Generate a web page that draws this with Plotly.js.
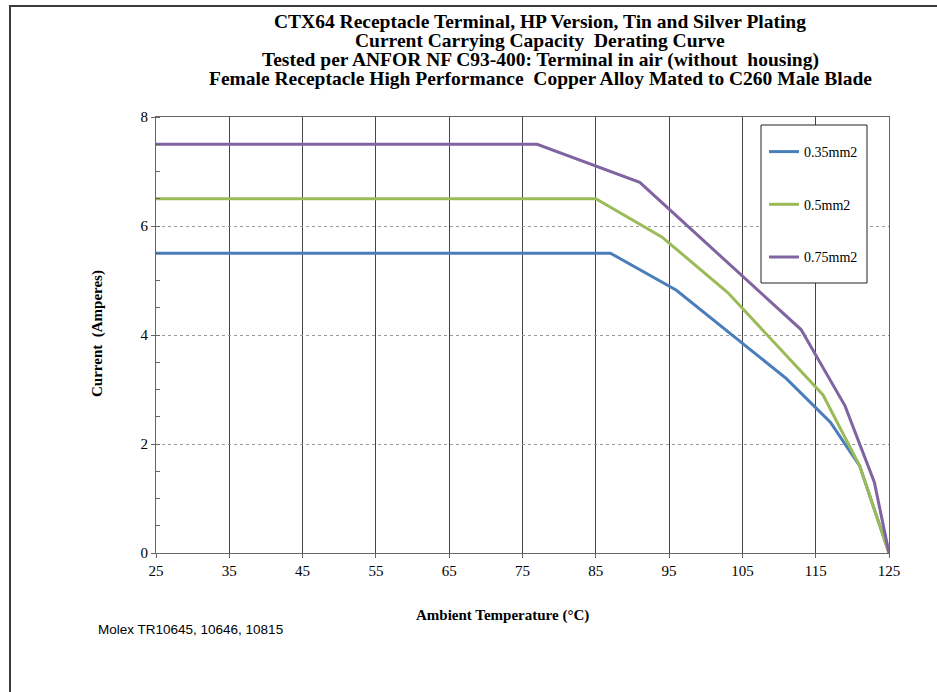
<!DOCTYPE html>
<html>
<head>
<meta charset="utf-8">
<script src="https://cdn.plot.ly/plotly-3.0.1.min.js"></script>
<style>
  html, body { margin: 0; padding: 0; background: #ffffff; }
  #wrap { position: relative; width: 937px; height: 692px; }
  #chart { position: absolute; left: 0; top: 0; width: 937px; height: 692px; }
  #frame { position: absolute; left: 9px; top: 5px; width: 928px; height: 687px;
           border-left: 2px solid #3a3a3a; border-top: 2px solid #3a3a3a; box-sizing: border-box; pointer-events: none; }
</style>
</head>
<body>
<div id="wrap">
  <div id="chart"></div>
  <div id="frame"></div>
</div>
<script>
// ---- Data ----
const seriesNames = ["0.35mm2", "0.5mm2", "0.75mm2"];
const tempA = [25, 87, 96, 111, 117, 121, 125];
const currA = [5.5, 5.5, 4.82, 3.2, 2.4, 1.6, 0];
const tempB = [25, 85, 94, 103, 116, 121, 125];
const currB = [6.5, 6.5, 5.8, 4.78, 2.9, 1.6, 0];
const tempC = [25, 77, 91, 113, 119, 123, 125];
const currC = [7.5, 7.5, 6.8, 4.1, 2.7, 1.3, 0];
const xTicks = [25, 35, 45, 55, 65, 75, 85, 95, 105, 115, 125];
const yTicks = [0, 2, 4, 6, 8];
const titleLines = [
  "CTX64 Receptacle Terminal, HP Version, Tin and Silver Plating",
  "Current Carrying Capacity  Derating Curve",
  "Tested per ANFOR NF C93-400: Terminal in air (without  housing)",
  "Female Receptacle High Performance  Copper Alloy Mated to C260 Male Blade"
];
const xTitle = "Ambient Temperature (°C)";
const yTitle = "Current  (Amperes)";
const footNote = "Molex TR10645, 10646, 10815";

const colors = ["#4a7ebb", "#9bbb59", "#8064a2"];
const serif = "Liberation Serif, Times New Roman, serif";

// plot area in pixels
const L = 156, R = 889, T = 117, B = 553;
const W = 937, H = 692;
const px = x => (x - L) / (R - L);
const py = y => (B - y) / (B - T);

const xs = [tempA, tempB, tempC];
const ys = [currA, currB, currC];
const traces = seriesNames.map((n, i) => ({
  type: "scatter", mode: "lines", name: n,
  x: xs[i], y: ys[i],
  line: { color: colors[i], width: 3 },
  legendgroup: "g" + i,
  hoverinfo: "skip"
}));

const annotations = titleLines.map((t, i) => ({
  xref: "paper", yref: "paper", x: px(540), y: py(22 + i * 19),
  xanchor: "center", yanchor: "middle", showarrow: false,
  text: "<b>" + t + "</b>",
  font: { family: serif, size: 19.5, color: "#000" }
}));
annotations.push({
  xref: "paper", yref: "paper", x: px(502), y: py(615),
  xanchor: "center", yanchor: "middle", showarrow: false,
  text: "<b>" + xTitle + "</b>",
  font: { family: serif, size: 15, color: "#000" }
});
annotations.push({
  xref: "paper", yref: "paper", x: px(97), y: py(334),
  xanchor: "center", yanchor: "middle", showarrow: false, textangle: -90,
  text: "<b>" + yTitle + "</b>",
  font: { family: serif, size: 15, color: "#000" }
});
annotations.push({
  xref: "paper", yref: "paper", x: px(96), y: py(629),
  xanchor: "left", yanchor: "middle", showarrow: false,
  text: footNote,
  font: { family: "Liberation Sans, Arial, sans-serif", size: 13.5, color: "#000" }
});

const layout = {
  width: W, height: H,
  margin: { l: L, r: W - R, t: T, b: H - B, pad: 0 },
  paper_bgcolor: "#ffffff", plot_bgcolor: "#ffffff",
  showlegend: true,
  legend: {
    x: px(764), y: py(136), xanchor: "left", yanchor: "top",
    bgcolor: "rgba(0,0,0,0)", borderwidth: 0,
    font: { family: serif, size: 14, color: "#000" },
    traceorder: "grouped", tracegroupgap: 31.5, itemwidth: 30
  },
  xaxis: {
    range: [25, 125], tickmode: "array", tickvals: xTicks, ticktext: xTicks.map(String),
    showgrid: true, gridcolor: "#444444", gridwidth: 1,
    showline: true, linecolor: "#666666", linewidth: 1, mirror: true,
    ticks: "outside", ticklen: 4, tickcolor: "#666666",
    zeroline: false, fixedrange: true,
    tickfont: { family: serif, size: 15, color: "#000" }
  },
  yaxis: {
    range: [0, 8], tickmode: "array", tickvals: yTicks, ticktext: yTicks.map(String),
    showgrid: true, gridcolor: "#9a9a9a", gridwidth: 1, griddash: "dot",
    showline: true, linecolor: "#666666", linewidth: 1, mirror: true,
    ticks: "outside", ticklen: 4, tickcolor: "#666666",
    minor: { dtick: 0.5, tick0: 0, ticks: "inside", ticklen: 4, tickcolor: "#666666", showgrid: false },
    zeroline: false, fixedrange: true,
    tickfont: { family: serif, size: 15, color: "#000" }
  },
  shapes: [{
    type: "rect", xref: "paper", yref: "paper", layer: "above",
    x0: px(761), x1: px(867), y0: py(283), y1: py(125),
    fillcolor: "#ffffff", line: { color: "#222222", width: 1 }
  }],
  annotations: annotations
};

Plotly.newPlot("chart", traces, layout, { displayModeBar: false, staticPlot: true });
</script>
</body>
</html>
